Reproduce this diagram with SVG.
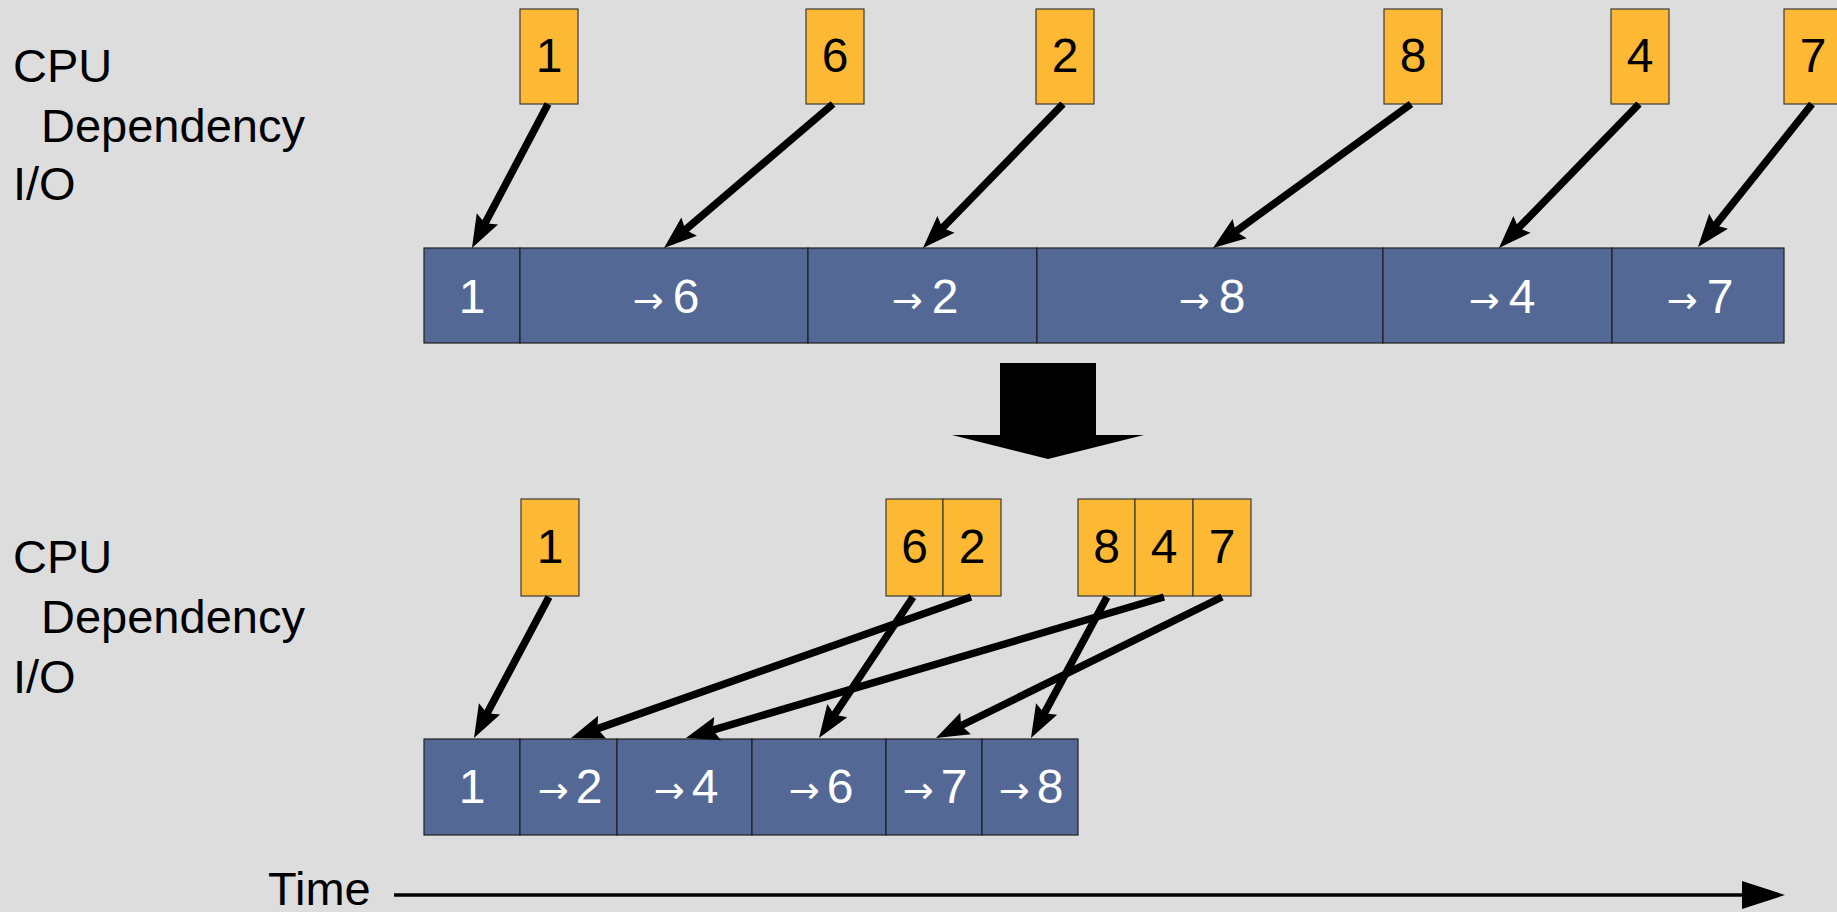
<svg xmlns="http://www.w3.org/2000/svg" width="1837" height="912" viewBox="0 0 1837 912">
  <style>
    text { font-family: "Liberation Sans", Arial, sans-serif; }
    .label { font-size: 47px; fill: #000; }
    .io { fill: #fdb934; stroke: #3a3a3a; stroke-width: 1.2; }
    .cpu { fill: #536895; stroke: #1e1e1e; stroke-width: 1.2; }
    .io-t { font-size: 48px; fill: #000; text-anchor: middle; }
    .cpu-t { font-size: 48px; fill: #fff; text-anchor: middle; }
    .arr { font-family: "DejaVu Sans", sans-serif; font-size: 37px; }
    .dep { stroke: #000; stroke-width: 7.5; fill: none; marker-end: url(#head); }
  </style>
  <defs>
    <marker id="head" markerUnits="userSpaceOnUse" viewBox="-10 -15 40 30" markerWidth="40" markerHeight="30" refX="0" refY="0" orient="auto" overflow="visible">
      <path d="M26,0 L-7,-12 L-2,0 L-7,12 Z" fill="#000"/>
    </marker>
  </defs>

  <rect width="1837" height="912" fill="#dddddd"/>

  <!-- row labels -->
  <g id="labels-top">
    <text class="label" x="13" y="82">CPU</text>
    <text class="label" x="41" y="142">Dependency</text>
    <text class="label" x="13" y="200">I/O</text>
  </g>
  <g id="labels-bottom">
    <text class="label" x="13" y="573">CPU</text>
    <text class="label" x="41" y="633">Dependency</text>
    <text class="label" x="13" y="693">I/O</text>
  </g>

  <!-- sequential schedule: I/O requests -->
  <g id="io-top-1"><rect class="io" x="520" y="9" width="58" height="95"/><text class="io-t" x="549" y="72">1</text></g>
  <g id="io-top-6"><rect class="io" x="806" y="9" width="58" height="95"/><text class="io-t" x="835" y="72">6</text></g>
  <g id="io-top-2"><rect class="io" x="1036" y="9" width="58" height="95"/><text class="io-t" x="1065" y="72">2</text></g>
  <g id="io-top-8"><rect class="io" x="1384" y="9" width="58" height="95"/><text class="io-t" x="1413" y="72">8</text></g>
  <g id="io-top-4"><rect class="io" x="1611" y="9" width="58" height="95"/><text class="io-t" x="1640" y="72">4</text></g>
  <g id="io-top-7"><rect class="io" x="1784" y="9" width="58" height="95"/><text class="io-t" x="1813" y="72">7</text></g>

  <!-- sequential schedule: CPU work -->
  <g id="cpu-top-1"><rect class="cpu" x="424" y="248" width="96" height="95"/><text class="cpu-t" x="472" y="313">1</text></g>
  <g id="cpu-top-6"><rect class="cpu" x="520" y="248" width="288" height="95"/><text class="cpu-t" x="666" y="313"><tspan class="arr">→</tspan><tspan dx="9">6</tspan></text></g>
  <g id="cpu-top-2"><rect class="cpu" x="808" y="248" width="229" height="95"/><text class="cpu-t" x="925" y="313"><tspan class="arr">→</tspan><tspan dx="9">2</tspan></text></g>
  <g id="cpu-top-8"><rect class="cpu" x="1037" y="248" width="346" height="95"/><text class="cpu-t" x="1212" y="313"><tspan class="arr">→</tspan><tspan dx="9">8</tspan></text></g>
  <g id="cpu-top-4"><rect class="cpu" x="1383" y="248" width="229" height="95"/><text class="cpu-t" x="1502" y="313"><tspan class="arr">→</tspan><tspan dx="9">4</tspan></text></g>
  <g id="cpu-top-7"><rect class="cpu" x="1612" y="248" width="172" height="95"/><text class="cpu-t" x="1700" y="313"><tspan class="arr">→</tspan><tspan dx="9">7</tspan></text></g>

  <!-- transformation arrow -->
  <g id="transform">
    <polygon points="1000,363 1096,363 1096,435 1144,435 1048,459 952,435 1000,435" fill="#000"/>
  </g>

  <!-- batched schedule: I/O requests -->
  <g id="io-bot-1"><rect class="io" x="521" y="499" width="58" height="97"/><text class="io-t" x="550" y="563">1</text></g>
  <g id="io-bot-6"><rect class="io" x="886" y="499" width="57" height="97"/><text class="io-t" x="914.5" y="563">6</text></g>
  <g id="io-bot-2"><rect class="io" x="943" y="499" width="58" height="97"/><text class="io-t" x="972" y="563">2</text></g>
  <g id="io-bot-8"><rect class="io" x="1078" y="499" width="57" height="97"/><text class="io-t" x="1106.5" y="563">8</text></g>
  <g id="io-bot-4"><rect class="io" x="1135" y="499" width="58" height="97"/><text class="io-t" x="1164" y="563">4</text></g>
  <g id="io-bot-7"><rect class="io" x="1193" y="499" width="58" height="97"/><text class="io-t" x="1222" y="563">7</text></g>

  <!-- batched schedule: CPU work -->
  <g id="cpu-bot-1"><rect class="cpu" x="424" y="739" width="96" height="96"/><text class="cpu-t" x="472" y="803">1</text></g>
  <g id="cpu-bot-2"><rect class="cpu" x="520" y="739" width="97" height="96"/><text class="cpu-t" x="570" y="803"><tspan class="arr">→</tspan><tspan dx="7">2</tspan></text></g>
  <g id="cpu-bot-4"><rect class="cpu" x="617" y="739" width="135" height="96"/><text class="cpu-t" x="686" y="803"><tspan class="arr">→</tspan><tspan dx="7">4</tspan></text></g>
  <g id="cpu-bot-6"><rect class="cpu" x="752" y="739" width="134" height="96"/><text class="cpu-t" x="821" y="803"><tspan class="arr">→</tspan><tspan dx="7">6</tspan></text></g>
  <g id="cpu-bot-7"><rect class="cpu" x="886" y="739" width="96" height="96"/><text class="cpu-t" x="935" y="803"><tspan class="arr">→</tspan><tspan dx="7">7</tspan></text></g>
  <g id="cpu-bot-8"><rect class="cpu" x="982" y="739" width="96" height="96"/><text class="cpu-t" x="1031" y="803"><tspan class="arr">→</tspan><tspan dx="7">8</tspan></text></g>

  <!-- dependency connectors -->
  <g id="connectors">
    <line class="dep" x1="548" y1="104" x2="484.1" y2="225.0"/>
    <line class="dep" x1="833" y1="104" x2="683.8" y2="231.1"/>
    <line class="dep" x1="1063" y1="104" x2="941.1" y2="229.4"/>
    <line class="dep" x1="1411" y1="104" x2="1234.0" y2="232.7"/>
    <line class="dep" x1="1639" y1="104" x2="1517.1" y2="229.4"/>
    <line class="dep" x1="1812" y1="104" x2="1714.2" y2="226.7"/>

    <line class="dep" x1="549" y1="597" x2="486.2" y2="715.0"/>
    <line class="dep" x1="913" y1="597" x2="833.4" y2="716.4"/>
    <line class="dep" x1="971" y1="597" x2="595.5" y2="729.4"/>
    <line class="dep" x1="1107" y1="597" x2="1043.3" y2="715.1"/>
    <line class="dep" x1="1164" y1="597" x2="710.9" y2="730.6"/>
    <line class="dep" x1="1222" y1="597" x2="959.3" y2="726.5"/>
  </g>

  <!-- time axis -->
  <g id="time-axis">
    <text class="label" x="268" y="905">Time</text>
    <line x1="394" y1="895" x2="1744" y2="895" stroke="#000" stroke-width="3.5"/>
    <polygon points="1742,881 1785,895 1742,909" fill="#000"/>
  </g>
</svg>
